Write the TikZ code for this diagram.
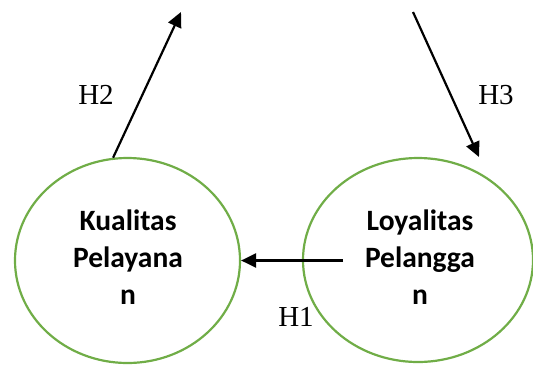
\documentclass[tikz,border=0pt]{standalone}
\usepackage{fontspec}
\setmainfont{Liberation Serif}
\newfontfamily\calfont{Carlito}
\usetikzlibrary{shapes.geometric,arrows.meta}
\definecolor{ovalgreen}{HTML}{70AD47}
\tikzset{
  oval/.style={draw=ovalgreen, line width=2.2pt, ellipse, inner sep=0pt},
  ovaltext/.style={align=center, font=\calfont\bfseries\fontsize{29.5}{37}\selectfont},
  hyp/.style={font=\fontsize{29}{33}\selectfont, inner sep=0pt},
  link/.style={line width=2.2pt, -{Triangle[length=15pt,width=14pt]}}
}
\begin{document}
\begin{tikzpicture}[x=1pt,y=-1pt]
\useasboundingbox (0,0) rectangle (533,365);
\node[oval, minimum width=225pt, minimum height=205pt] (L) at (127.5,260.5) {};
\node[oval, minimum width=230pt, minimum height=204pt] (R) at (418,260) {};
\node[ovaltext] (Lt) at (128,257) {Kualitas\\Pelayana\\n};
\node[ovaltext] (Rt) at (420,257) {Loyalitas\\Pelangga\\n};
\coordinate (h2e) at (181,12);
\coordinate (h3s) at (413,12);
\coordinate (h3e) at (479,157);
\coordinate (h1s) at (343,260.5);
\draw[link] (L.98.6) -- (h2e);
\draw[link] (h3s) -- (h3e);
\draw[link] (h1s) -- (L.east);
\node[hyp, anchor=base] (H2) at (96,104) {H2};
\node[hyp, anchor=base] (H3) at (496,104) {H3};
\node[hyp, anchor=base] (H1) at (296,326) {H1};
\end{tikzpicture}
\end{document}
